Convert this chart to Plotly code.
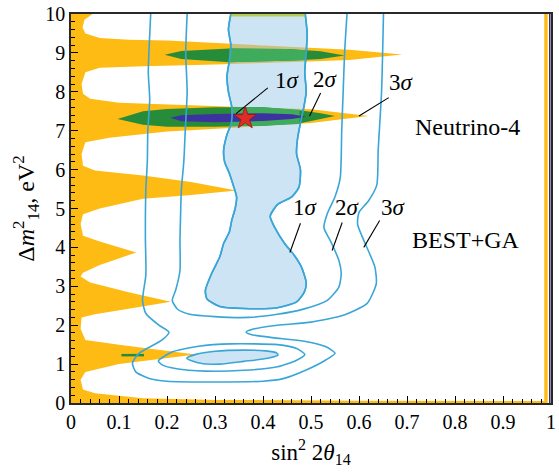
import plotly.graph_objects as go

# ---------------- axis ticks ----------------
x_ticks = [0, 0.1, 0.2, 0.3, 0.4, 0.5, 0.6, 0.7, 0.8, 0.9, 1.0]
x_tick_labels = ["0", "0.1", "0.2", "0.3", "0.4", "0.5", "0.6", "0.7", "0.8", "0.9", "1"]
y_ticks = [0, 1, 2, 3, 4, 5, 6, 7, 8, 9, 10]
y_tick_labels = ["0", "1", "2", "3", "4", "5", "6", "7", "8", "9", "10"]

# ---------------- Neutrino-4 regions ----------------
# 3 sigma (orange) region boundary
n4_3s_x = [0.045, 0.028, 0.024, 0.03, 0.06, 0.12, 0.2, 0.35, 0.48, 0.58, 0.69,
           0.58, 0.45, 0.3, 0.15, 0.06, 0.03, 0.022, 0.025, 0.04, 0.1, 0.2, 0.35, 0.5, 0.62,
           0.5, 0.35, 0.2, 0.08, 0.03, 0.022, 0.025, 0.05, 0.15, 0.25, 0.345,
           0.25, 0.15, 0.06, 0.025, 0.02, 0.025, 0.06, 0.136,
           0.06, 0.025, 0.02, 0.04, 0.12, 0.208,
           0.12, 0.05, 0.022, 0.02, 0.03, 0.1, 0.26,
           0.1, 0.03, 0.02, 0.025, 0.05, 0.15, 0.3, 0.6, 0.99, 0.99, 0.0, 0.0]
n4_3s_y = [10.0, 9.85, 9.65, 9.5, 9.38, 9.34, 9.32, 9.22, 9.15, 9.08, 8.96,
           8.82, 8.76, 8.7, 8.66, 8.62, 8.5, 8.2, 7.95, 7.82, 7.72, 7.68, 7.62, 7.55, 7.38,
           7.2, 7.08, 6.98, 6.82, 6.7, 6.4, 6.1, 5.98, 5.85, 5.68, 5.46,
           5.35, 5.25, 5.0, 4.85, 4.6, 4.3, 4.15, 3.87,
           3.55, 3.35, 3.25, 3.1, 2.85, 2.6,
           2.42, 2.28, 2.2, 1.9, 1.62, 1.5, 1.25,
           1.0, 0.8, 0.6, 0.35, 0.25, 0.12, 0.08, 0.06, 0.05, 0.0, 0.0, 10.0]
n4_strip_x = [0.986, 0.993, 0.993, 0.986]
n4_strip_y = [0, 0, 10, 10]
n4_edge_x = [0.996, 0.999, 0.999, 0.996]
n4_edge_y = [0, 0, 10, 10]
n4_top_x = [0.333, 0.488]
n4_top_y = [9.97, 9.97]

# 2 sigma (green) lobes
n4_2s_a_x = [0.195, 0.23, 0.33, 0.45, 0.52, 0.57, 0.52, 0.45, 0.33, 0.23, 0.195]
n4_2s_a_y = [8.95, 9.05, 9.11, 9.1, 9.04, 8.93, 8.84, 8.8, 8.76, 8.84, 8.95]
n4_2s_b_x = [0.097, 0.15, 0.2, 0.3, 0.4, 0.48, 0.52, 0.55, 0.52, 0.48, 0.4, 0.3, 0.2, 0.15, 0.097]
n4_2s_b_y = [7.3, 7.5, 7.56, 7.6, 7.6, 7.52, 7.45, 7.38, 7.3, 7.2, 7.13, 7.1, 7.1, 7.15, 7.3]
# parts of the green lobes seen through the BEST 1 sigma band
n4_2s_a_in_x = [0.33, 0.45, 0.489, 0.489, 0.45, 0.33]
n4_2s_a_in_y = [9.11, 9.1, 9.07, 8.81, 8.8, 8.76]
n4_2s_b_in_x = [0.334, 0.4, 0.476, 0.476, 0.4, 0.334]
n4_2s_b_in_y = [7.6, 7.6, 7.54, 7.17, 7.13, 7.12]
n4_2s_c_x = [0.105, 0.152]
n4_2s_c_y = [1.23, 1.23]

# 1 sigma (indigo) lobe
n4_1s_x = [0.207, 0.23, 0.3, 0.4, 0.46, 0.49, 0.46, 0.4, 0.3, 0.23, 0.207]
n4_1s_y = [7.33, 7.4, 7.43, 7.45, 7.42, 7.36, 7.3, 7.25, 7.22, 7.24, 7.33]

# best fit point
best_fit_x = [0.363]
best_fit_y = [7.32]

# ---------------- BEST+GA contours ----------------
best_1s_a_x = [0.333, 0.328, 0.333, 0.33, 0.325, 0.328, 0.335, 0.334, 0.325, 0.318, 0.32,
               0.33, 0.338, 0.345, 0.342, 0.335, 0.33, 0.318, 0.31, 0.293, 0.28, 0.283,
               0.31, 0.36, 0.43, 0.47, 0.486, 0.49, 0.48, 0.465, 0.445, 0.425, 0.415,
               0.43, 0.46, 0.475, 0.478, 0.47, 0.472, 0.478, 0.485, 0.49, 0.487, 0.49,
               0.492, 0.488]
best_1s_a_y = [10.0, 9.6, 9.2, 8.8, 8.4, 8.0, 7.6, 7.2, 6.9, 6.5, 6.2,
               5.9, 5.6, 5.3, 5.0, 4.7, 4.4, 4.1, 3.76, 3.33, 2.9, 2.68,
               2.48, 2.43, 2.45, 2.6, 2.85, 3.1, 3.5, 3.8, 4.1, 4.5, 4.8,
               5.1, 5.3, 5.55, 6.0, 6.4, 6.8, 7.2, 7.6, 8.0, 8.5, 9.0,
               9.5, 10.0]
best_1s_b_x = [0.241, 0.26, 0.3, 0.36, 0.405, 0.428, 0.431, 0.41, 0.36, 0.31, 0.27, 0.241]
best_1s_b_y = [1.15, 1.25, 1.33, 1.36, 1.34, 1.29, 1.23, 1.15, 1.07, 1.0, 1.02, 1.15]

best_2s_a_x = [0.242, 0.239, 0.242, 0.238, 0.235, 0.23, 0.228, 0.227, 0.227, 0.218, 0.211,
               0.222, 0.245, 0.3, 0.37, 0.43, 0.486, 0.534, 0.558, 0.563, 0.558, 0.54,
               0.527, 0.534, 0.55, 0.561, 0.564, 0.567, 0.57, 0.575]
best_2s_a_y = [10.0, 9.0, 8.0, 7.0, 6.2, 5.5, 4.7, 4.2, 3.4, 2.9, 2.64,
               2.41, 2.29, 2.22, 2.2, 2.28, 2.42, 2.64, 2.98, 3.33, 3.67, 4.18,
               4.5, 4.87, 5.3, 5.8, 7.0, 8.0, 9.0, 10.0]
best_2s_b_x = [0.182, 0.21, 0.266, 0.334, 0.43, 0.47, 0.487, 0.47, 0.43, 0.36, 0.28, 0.22, 0.19, 0.182]
best_2s_b_y = [1.08, 1.31, 1.46, 1.52, 1.5, 1.4, 1.25, 1.1, 0.93, 0.84, 0.82, 0.88, 0.98, 1.08]

best_3s_x = [0.166, 0.163, 0.161, 0.164, 0.16, 0.159, 0.156, 0.155, 0.155, 0.156, 0.149,
             0.156, 0.183, 0.204, 0.19, 0.142, 0.128, 0.135, 0.163, 0.2, 0.3, 0.4, 0.44,
             0.49, 0.53, 0.55, 0.53, 0.48, 0.42, 0.375, 0.365, 0.38, 0.43, 0.5, 0.569,
             0.617, 0.636, 0.633, 0.61, 0.597, 0.6, 0.62, 0.637, 0.64, 0.647, 0.651]
best_3s_y = [10.0, 9.2, 8.5, 7.8, 7.0, 6.2, 5.5, 4.8, 4.2, 3.3, 2.64,
             2.3, 2.0, 1.82, 1.62, 1.28, 1.03, 0.8, 0.63, 0.56, 0.54, 0.56, 0.62,
             0.85, 1.1, 1.28, 1.45, 1.6, 1.68, 1.76, 1.82, 1.9, 2.0, 2.08, 2.26,
             2.56, 3.07, 3.5, 4.18, 4.6, 4.9, 5.2, 5.6, 6.5, 8.0, 10.0]

# ---------------- labels ----------------
n4_label_text = ["1σ", "2σ", "3σ"]
n4_label_x = [0.4515, 0.53, 0.689]
n4_label_y = [8.28, 8.31, 8.23]
n4_leader_x = [[0.41, 0.344], [0.52, 0.497], [0.662, 0.6]]
n4_leader_y = [[8.1, 7.44], [7.97, 7.38], [7.85, 7.38]]
best_label_text = ["1σ", "2σ", "3σ"]
best_label_x = [0.489, 0.577, 0.672]
best_label_y = [5.03, 5.03, 5.03]
best_leader_x = [[0.478, 0.456], [0.565, 0.544], [0.643, 0.61]]
best_leader_y = [[4.62, 3.87], [4.64, 3.92], [4.69, 4.0]]

ORANGE = "rgb(253,187,20)"
GREEN = "rgb(38,140,58)"
LIGHTGREEN = "rgb(62,172,92)"
INDIGO = "rgb(62,50,160)"
BLUELINE = "rgb(58,166,216)"
BANDFILL = "rgba(155,202,236,0.5)"
FONT = "Liberation Serif"

fig = go.Figure()

def poly(x, y, color, line_color=None, width=0):
    fig.add_trace(go.Scatter(x=x, y=y, mode="lines", fill="toself", fillcolor=color,
                             line=dict(color=line_color or color, width=width),
                             hoverinfo="skip", showlegend=False))

poly(n4_3s_x, n4_3s_y, ORANGE)
poly(n4_strip_x, n4_strip_y, ORANGE)
poly(n4_edge_x, n4_edge_y, "rgb(40,40,90)")

# BEST 1 sigma band fill (translucent)
fig.add_trace(go.Scatter(x=best_1s_a_x, y=best_1s_a_y, mode="lines", fill="toself",
                         fillcolor=BANDFILL, line=dict(color=BLUELINE, width=1.6, shape="spline", smoothing=0.6),
                         hoverinfo="skip", showlegend=False))
fig.add_trace(go.Scatter(x=n4_top_x, y=n4_top_y, mode="lines",
                         line=dict(color="rgb(180,205,90)", width=2.5), hoverinfo="skip", showlegend=False))

poly(n4_2s_a_x, n4_2s_a_y, GREEN)
poly(n4_2s_b_x, n4_2s_b_y, GREEN)
poly(n4_2s_a_in_x, n4_2s_a_in_y, LIGHTGREEN)
poly(n4_2s_b_in_x, n4_2s_b_in_y, LIGHTGREEN)
fig.add_trace(go.Scatter(x=n4_2s_c_x, y=n4_2s_c_y, mode="lines",
                         line=dict(color=GREEN, width=2.5), hoverinfo="skip", showlegend=False))
poly(n4_1s_x, n4_1s_y, INDIGO)

# re-draw the band outline above the N4 colours
fig.add_trace(go.Scatter(x=best_1s_a_x, y=best_1s_a_y, mode="lines",
                         line=dict(color=BLUELINE, width=1.6, shape="spline", smoothing=0.6),
                         hoverinfo="skip", showlegend=False))
fig.add_trace(go.Scatter(x=best_1s_b_x, y=best_1s_b_y, mode="lines", fill="toself",
                         fillcolor=BANDFILL, line=dict(color=BLUELINE, width=1.6, shape="spline", smoothing=0.7),
                         hoverinfo="skip", showlegend=False))
for xs, ys in [(best_2s_a_x, best_2s_a_y), (best_2s_b_x, best_2s_b_y), (best_3s_x, best_3s_y)]:
    fig.add_trace(go.Scatter(x=xs, y=ys, mode="lines",
                             line=dict(color=BLUELINE, width=1.6, shape="spline", smoothing=0.6),
                             hoverinfo="skip", showlegend=False))

# leader lines
for xs, ys in zip(n4_leader_x + best_leader_x, n4_leader_y + best_leader_y):
    fig.add_trace(go.Scatter(x=xs, y=ys, mode="lines", line=dict(color="black", width=1.1),
                             hoverinfo="skip", showlegend=False))

# best fit star
fig.add_trace(go.Scatter(x=best_fit_x, y=best_fit_y, mode="markers",
                         marker=dict(symbol="star", size=17, color="rgb(222,45,38)",
                                     line=dict(color="rgb(150,20,20)", width=0.8)),
                         hoverinfo="skip", showlegend=False))

annotations = []
for t, x, y in zip(n4_label_text + best_label_text, n4_label_x + best_label_x, n4_label_y + best_label_y):
    annotations.append(dict(x=x, y=y, xref="x", yref="y", text=t[0] + "<i>" + t[1] + "</i>",
                            showarrow=False, font=dict(family=FONT, size=23, color="black")))
annotations.append(dict(x=0.827, y=7.1, xref="x", yref="y", text="Neutrino-4", showarrow=False,
                        font=dict(family=FONT, size=24, color="black")))
annotations.append(dict(x=0.823, y=4.18, xref="x", yref="y", text="BEST+GA", showarrow=False,
                        font=dict(family=FONT, size=24, color="black")))

fig.update_layout(
    width=559, height=474,
    margin=dict(l=71, r=3, t=13, b=71),
    paper_bgcolor="white", plot_bgcolor="white",
    font=dict(family=FONT, size=20, color="black"),
    annotations=annotations,
    xaxis=dict(range=[0, 1], tickvals=x_ticks, ticktext=x_tick_labels,
               ticks="inside", ticklen=7, tickwidth=1, tickcolor="black",
               minor=dict(ticks="inside", ticklen=4, dtick=0.02, tickcolor="black", tickwidth=1),
               showline=True, linecolor="rgb(40,40,40)", linewidth=1.5, mirror=True,
               showgrid=False, zeroline=False, tickfont=dict(family=FONT, size=20),
               title=dict(text="sin<sup>2</sup> 2<i>θ</i><sub>14</sub>", font=dict(family=FONT, size=23), standoff=12)),
    yaxis=dict(range=[0, 10], tickvals=y_ticks, ticktext=y_tick_labels,
               ticks="inside", ticklen=7, tickwidth=1, tickcolor="black",
               minor=dict(ticks="inside", ticklen=4, dtick=0.2, tickcolor="black", tickwidth=1),
               showline=True, linecolor="rgb(40,40,40)", linewidth=1.5, mirror=True,
               showgrid=False, zeroline=False, tickfont=dict(family=FONT, size=20),
               title=dict(text="Δ<i>m</i><sup>2</sup><sub>14</sub>, eV<sup>2</sup>", font=dict(family=FONT, size=24), standoff=4)),
)

fig.write_html("out.html")
